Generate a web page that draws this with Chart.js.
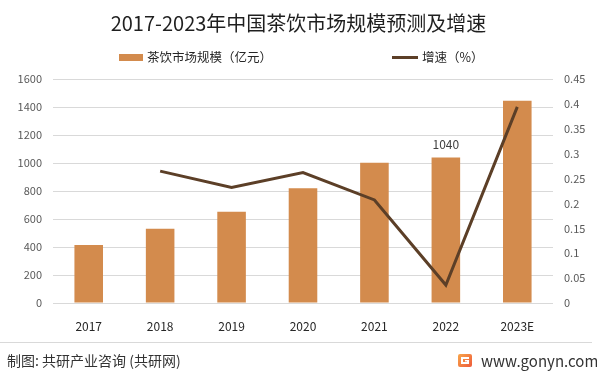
<!DOCTYPE html>
<html>
<head>
<meta charset="utf-8">
<script src="https://cdn.jsdelivr.net/npm/chart.js@4.4.1/dist/chart.umd.min.js"></script>
<style>
	body { margin: 0; background: #ffffff; }
</style>
</head>
<body>
<canvas id="chart" width="597" height="374"></canvas>
<script>
const years = ['2017', '2018', '2019', '2020', '2021', '2022', '2023E'];
const marketSize = [415, 530, 652, 820, 1002, 1040, 1445];
const growthRate = [null, 0.265, 0.232, 0.262, 0.207, 0.036, 0.394];
const labelledYears = ['2022'];

const titleText = '2017-2023年中国茶饮市场规模预测及增速';
const barLabel = '茶饮市场规模（亿元）';
const lineLabel = '增速（%）';
const sourceText = '制图: 共研产业咨询 (共研网)';
const siteText = 'www.gonyn.com';

const FONT = '"Noto Sans CJK SC", "Noto Sans", sans-serif';
const BAR_COLOR = '#D38B4D';
const LINE_COLOR = '#5C3F27';

// legend, value label and footer drawn on top of the chart
const extras = {
	id: 'extras',
	afterDraw(chart) {
		const ctx = chart.ctx;
		ctx.save();

		// legend
		ctx.textBaseline = 'middle';
		ctx.textAlign = 'left';
		ctx.font = '12.5px ' + FONT;
		ctx.fillStyle = BAR_COLOR;
		ctx.fillRect(119, 54, 24, 7);
		ctx.fillStyle = '#262626';
		ctx.fillText(chart.data.datasets[0].label, 147, 57.5);
		ctx.strokeStyle = LINE_COLOR;
		ctx.lineWidth = 3;
		ctx.beginPath();
		ctx.moveTo(392, 57.5);
		ctx.lineTo(418, 57.5);
		ctx.stroke();
		ctx.fillText(chart.data.datasets[1].label, 422, 57.5);

		// value label above selected bars
		const meta = chart.getDatasetMeta(0);
		ctx.font = '12px ' + FONT;
		ctx.fillStyle = '#404040';
		ctx.textAlign = 'center';
		years.forEach((y, i) => {
			if (!labelledYears.includes(y)) return;
			const bar = meta.data[i];
			ctx.fillText(String(marketSize[i]), bar.x, bar.y - 13);
		});

		// footer
		ctx.strokeStyle = '#d9d9d9';
		ctx.lineWidth = 1;
		ctx.beginPath();
		ctx.moveTo(0, 342.5);
		ctx.lineTo(592, 342.5);
		ctx.stroke();

		ctx.textAlign = 'left';
		ctx.fillStyle = '#333333';
		ctx.font = '14px ' + FONT;
		ctx.fillText(sourceText, 7, 361);

		const g = ctx.createLinearGradient(458, 354, 472, 367);
		g.addColorStop(0, '#F8A64A');
		g.addColorStop(1, '#EE5A3A');
		ctx.fillStyle = g;
		ctx.beginPath();
		ctx.roundRect(458, 354, 14, 13, 2);
		ctx.fill();
		ctx.fillStyle = '#ffffff';
		ctx.fillRect(461, 357, 8, 2);
		ctx.fillRect(461, 357, 2, 7);
		ctx.fillRect(461, 362, 8, 2);
		ctx.fillRect(467, 360, 2, 4);
		ctx.fillRect(465, 360, 4, 1.5);

		ctx.fillStyle = '#333333';
		ctx.font = '15px ' + FONT;
		ctx.fillText(siteText, 481, 361);
		ctx.restore();
	}
};

new Chart(document.getElementById('chart'), {
	data: {
		labels: years,
		datasets: [{
			type: 'bar',
			label: barLabel,
			data: marketSize,
			backgroundColor: BAR_COLOR,
			barPercentage: 0.4,
			categoryPercentage: 1,
			yAxisID: 'y',
			order: 2,
		}, {
			type: 'line',
			label: lineLabel,
			data: growthRate,
			borderColor: LINE_COLOR,
			backgroundColor: LINE_COLOR,
			borderWidth: 3,
			pointRadius: 0,
			tension: 0,
			yAxisID: 'y1',
			order: 1,
		}]
	},
	plugins: [extras],
	options: {
		responsive: false,
		devicePixelRatio: 1,
		animation: false,
		layout: {
			padding: { top: 0, bottom: 41, left: 0, right: 0 }
		},
		plugins: {
			legend: { display: false },
			tooltip: { enabled: false },
			title: {
				display: true,
				text: titleText,
				color: '#1f1f1f',
				font: { family: FONT, size: 20, weight: 'normal' },
				padding: { top: 11, bottom: 44 }
			}
		},
		scales: {
			x: {
				grid: { display: false },
				border: { display: false },
				ticks: {
					color: '#262626',
					font: { family: FONT, size: 12 },
					padding: 8
				},
				afterFit(scale) { scale.height = 30; }
			},
			y: {
				position: 'left',
				min: 0,
				max: 1600,
				grid: { color: '#d9d9d9', drawTicks: false },
				border: { display: false },
				ticks: {
					stepSize: 200,
					color: '#595959',
					font: { family: FONT, size: 11 },
					padding: 11,
					callback: (v) => String(v)
				},
				afterFit(scale) { scale.width = 53; }
			},
			y1: {
				position: 'right',
				min: 0,
				max: 0.45,
				grid: { display: false, drawTicks: false },
				border: { display: false },
				ticks: {
					stepSize: 0.05,
					color: '#595959',
					font: { family: FONT, size: 11 },
					padding: 11,
					callback: (v) => String(Number(v.toFixed(2)))
				},
				afterFit(scale) { scale.width = 44; }
			}
		}
	}
});
</script>
</body>
</html>
